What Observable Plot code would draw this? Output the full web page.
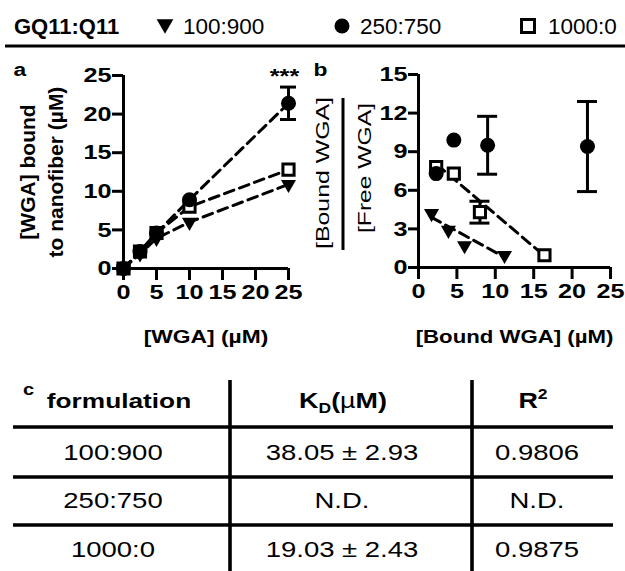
<!DOCTYPE html>
<html><head><meta charset="utf-8">
<script src="https://cdn.jsdelivr.net/npm/d3@7"></script>
<script src="https://cdn.jsdelivr.net/npm/@observablehq/plot@0.6"></script>
<style>
html,body{margin:0;padding:0;background:#fff;}
#fig{position:relative;width:625px;height:571px;overflow:hidden;background:#fff;}
#fig > svg{position:absolute;}
</style></head><body><div id="fig"></div>
<script>
// ---------- data ----------
const formulations = ["100:900", "250:750", "1000:0"];
// panel a: [WGA] added vs bound
const wgaConc   = [0, 2.5, 5, 10, 25];
const bound100  = [0, 1.9, 3.9, 6.0, 10.9];
const bound250  = [0, 2.2, 4.6, 8.9, 21.4];
const bound1000 = [0, 2.2, 4.6, 8.0, 12.8];
const sem250    = [0, 0, 0, 0, 2.1];
const sigLabels = ["***"];
const sigConc   = [25];
// panel b: Scatchard
const sBound100  = [1.7, 3.9, 6.0, 11.2];
const sRatio100  = [4.2, 2.9, 1.7, 0.95];
const sBound250  = [2.3, 4.6, 9.0, 22.0];
const sRatio250  = [7.3, 9.9, 9.5, 9.4];
const sSem250    = [0, 0, 2.25, 3.5];
const sBound1000 = [2.3, 4.6, 8.0, 16.4];
const sRatio1000 = [7.8, 7.3, 4.3, 0.95];
const sSem1000   = [0, 0, 0.85, 0];
const fitX100  = [1.7, 11.2], fitY100  = [3.9, 0.8];
const fitX1000 = [2.4, 16.6], fitY1000 = [8.0, 0.8];
// ticks
const xTicks  = [0, 5, 10, 15, 20, 25];
const yTicksA = [0, 5, 10, 15, 20, 25];
const yTicksB = [0, 3, 6, 9, 12, 15];
// table
const tableKd = ["38.05 \u00b1 2.93", "N.D.", "19.03 \u00b1 2.43"];
const tableR2 = ["0.9806", "N.D.", "0.9875"];

// ---------- helpers ----------
const FONT = '"Liberation Sans", Arial, Helvetica, sans-serif';
const S = 1.2;   // horizontal text stretch in the panels
const ST = 1.25; // horizontal text stretch in the table
const dash = "10,6";
const triDown = {draw(ctx, size) {
  const s = Math.sqrt(size * 4 / Math.sqrt(3)), h = s * Math.sqrt(3) / 2;
  ctx.moveTo(-s / 2, -h / 3); ctx.lineTo(s / 2, -h / 3); ctx.lineTo(0, 2 * h / 3); ctx.closePath();
}};
function stretch(svg) {
  svg.querySelectorAll("text").forEach(t => {
    const tr = t.getAttribute("transform");
    if (tr && tr.startsWith("translate(") && !tr.includes("rotate")) {
      const i = tr.indexOf(")") + 1;
      t.setAttribute("transform", tr.slice(0, i) + ` scale(${S},1)` + tr.slice(i));
    }
  });
}
const fig = document.getElementById("fig");
const base = {fontFamily: FONT, color: "black", background: "transparent", overflow: "visible"};

// ---------- panel a ----------
const byF = {"100:900": bound100, "250:750": bound250, "1000:0": bound1000};
const rowsA = formulations.flatMap(f => wgaConc.map((c, i) => ({f, x: c, y: byF[f][i]})));
const errA = wgaConc.map((c, i) => ({x: c, y: bound250[i], e: sem250[i]})).filter(d => d.e > 0);
const sig = sigLabels.map((t, i) => ({x: sigConc[i], t}));

const plotA = Plot.plot({
  width: 305, height: 360,
  marginLeft: 123, marginRight: 17, marginTop: 75, marginBottom: 92,
  style: base,
  x: {domain: [0, 25]}, y: {domain: [0, 25]},
  marks: [
    Plot.ruleY([0], {strokeWidth: 3}),
    Plot.ruleX([0], {strokeWidth: 3}),
    Plot.axisX({ticks: xTicks, tickSize: 12, tickPadding: 4, strokeWidth: 3, fontSize: 21, fontWeight: "bold", label: null}),
    Plot.axisY({ticks: yTicksA, tickSize: 11, tickPadding: 1, strokeWidth: 3, fontSize: 21, fontWeight: "bold", label: null}),
    Plot.line(rowsA, {x: "x", y: "y", z: "f", stroke: "black", strokeWidth: 3, strokeDasharray: dash}),
    Plot.ruleX(errA, {x: "x", y1: d => d.y - d.e, y2: d => d.y + d.e, strokeWidth: 3}),
    Plot.ruleY(errA, {x1: "x", x2: "x", y: d => d.y - d.e, insetLeft: -8, insetRight: -8, strokeWidth: 3}),
    Plot.ruleY(errA, {x1: "x", x2: "x", y: d => d.y + d.e, insetLeft: -8, insetRight: -8, strokeWidth: 3}),
    Plot.dot(rowsA.filter(d => d.f === "100:900"), {x: "x", y: "y", symbol: triDown, r: 5.6, fill: "black"}),
    Plot.dot(rowsA.filter(d => d.f === "1000:0"), {x: "x", y: "y", symbol: "square", r: 6.3, fill: "white", stroke: "black", strokeWidth: 3}),
    Plot.dot(rowsA.filter(d => d.f === "250:750"), {x: "x", y: "y", symbol: "circle", r: 7.5, fill: "black"}),
    Plot.text(sig, {x: "x", text: "t", frameAnchor: "top", lineAnchor: "bottom", dx: -4, dy: 7, fontSize: 21, fontWeight: "bold"}),
    Plot.text(["[WGA] (\u00b5M)"], {frameAnchor: "bottom", lineAnchor: "bottom", dy: 74, fontSize: 19, fontWeight: "bold"}),
    Plot.text(["[WGA] bound\nto nanofiber (\u00b5M)"], {frameAnchor: "left", rotate: -90, textAnchor: "middle", lineAnchor: "bottom", dx: -61, dy: 0, fontSize: 21, fontWeight: "bold", lineHeight: 1.33}),
    Plot.text(["a"], {frameAnchor: "top-left", textAnchor: "start", lineAnchor: "bottom", dx: -110, dy: 0, fontSize: 19, fontWeight: "bold"})
  ]
});
stretch(plotA);
plotA.style.left = "0px"; plotA.style.top = "0px";

// ---------- panel b ----------
const rowsB100  = sBound100.map((x, i) => ({x, y: sRatio100[i]}));
const rowsB250  = sBound250.map((x, i) => ({x, y: sRatio250[i], e: sSem250[i]}));
const rowsB1000 = sBound1000.map((x, i) => ({x, y: sRatio1000[i], e: sSem1000[i]}));
const errB = [...rowsB250, ...rowsB1000].filter(d => d.e > 0);
const fits = [
  ...fitX100.map((x, i) => ({f: "100:900", x, y: fitY100[i]})),
  ...fitX1000.map((x, i) => ({f: "1000:0", x, y: fitY1000[i]}))
];

const plotB = Plot.plot({
  width: 320, height: 360,
  marginLeft: 113, marginRight: 15, marginTop: 74, marginBottom: 93,
  style: base,
  x: {domain: [0, 25]}, y: {domain: [0, 15]},
  marks: [
    Plot.ruleY([0], {strokeWidth: 3}),
    Plot.ruleX([0], {strokeWidth: 3}),
    Plot.axisX({ticks: xTicks, tickSize: 12, tickPadding: 4, strokeWidth: 3, fontSize: 21, fontWeight: "bold", label: null}),
    Plot.axisY({ticks: yTicksB, tickSize: 10, tickPadding: 1, strokeWidth: 3, fontSize: 21, fontWeight: "bold", label: null}),
    Plot.line(fits, {x: "x", y: "y", z: "f", stroke: "black", strokeWidth: 3, strokeDasharray: dash}),
    Plot.ruleX(errB, {x: "x", y1: d => d.y - d.e, y2: d => d.y + d.e, strokeWidth: 3}),
    Plot.ruleY(errB, {x1: "x", x2: "x", y: d => d.y - d.e, insetLeft: -10, insetRight: -10, strokeWidth: 3}),
    Plot.ruleY(errB, {x1: "x", x2: "x", y: d => d.y + d.e, insetLeft: -10, insetRight: -10, strokeWidth: 3}),
    Plot.dot(rowsB100, {x: "x", y: "y", symbol: triDown, r: 5.6, fill: "black"}),
    Plot.dot(rowsB1000, {x: "x", y: "y", symbol: "square", r: 6.3, fill: "white", stroke: "black", strokeWidth: 3}),
    Plot.dot(rowsB250, {x: "x", y: "y", symbol: "circle", r: 7.5, fill: "black"}),
    Plot.text(["[Bound WGA] (\u00b5M)"], {frameAnchor: "bottom", lineAnchor: "bottom", dy: 75, fontSize: 18.5, fontWeight: "bold"}),
    Plot.text(["b"], {frameAnchor: "top-left", textAnchor: "start", lineAnchor: "bottom", dx: -105, dy: 1, fontSize: 19, fontWeight: "bold"})
  ]
});
stretch(plotB);
plotB.style.left = "305px"; plotB.style.top = "0px";
// fraction label of the y axis
{
  const g = d3.select(plotB).append("g").attr("font-family", FONT).attr("font-size", 19).attr("fill", "black");
  g.append("text").attr("transform", "translate(24,173) rotate(-90)").attr("text-anchor", "middle")
    .attr("textLength", 152).attr("lengthAdjust", "spacingAndGlyphs").text("[Bound WGA]");
  g.append("line").attr("x1", 38).attr("x2", 38).attr("y1", 98).attr("y2", 250).attr("stroke", "black").attr("stroke-width", 3);
  g.append("text").attr("transform", "translate(66,168) rotate(-90)").attr("text-anchor", "middle")
    .attr("textLength", 130).attr("lengthAdjust", "spacingAndGlyphs").text("[Free WGA]");
}

// ---------- legend + table ----------
const deco = d3.create("svg").attr("width", 625).attr("height", 571)
  .style("left", "0px").style("top", "0px").attr("font-family", FONT).attr("fill", "black");
deco.append("text").attr("x", 14).attr("y", 34).attr("font-size", 22).attr("font-weight", "bold").text("GQ11:Q11");
const legendItems = [
  {label: formulations[0], sx: 165, sy: 24, tx: 183, kind: "tri"},
  {label: formulations[1], sx: 342, sy: 26, tx: 360, kind: "circle"},
  {label: formulations[2], sx: 528, sy: 26, tx: 548, kind: "square"}
];
legendItems.forEach(d => {
  if (d.kind === "tri") deco.append("path").attr("d", d3.symbol(triDown, Math.PI * 6.2 * 6.2)()).attr("transform", `translate(${d.sx},${d.sy})`);
  if (d.kind === "circle") deco.append("circle").attr("cx", d.sx).attr("cy", d.sy).attr("r", 7.5);
  if (d.kind === "square") deco.append("rect").attr("x", d.sx - 6.5).attr("y", d.sy - 6.5).attr("width", 13).attr("height", 13).attr("fill", "white").attr("stroke", "black").attr("stroke-width", 3);
  deco.append("text").attr("x", d.tx).attr("y", 34).attr("font-size", 22.5).text(d.label);
});
deco.append("line").attr("x1", 5).attr("x2", 625).attr("y1", 46).attr("y2", 46).attr("stroke", "black").attr("stroke-width", 3.2);

// table
[427, 477, 525].forEach(y => deco.append("line").attr("x1", 13).attr("x2", 613).attr("y1", y).attr("y2", y).attr("stroke", "black").attr("stroke-width", 3.3));
[230, 472].forEach(x => deco.append("line").attr("x1", x).attr("x2", x).attr("y1", 380).attr("y2", 571).attr("stroke", "black").attr("stroke-width", 3.6));
function cell(x, y, size, weight, anchor) {
  return deco.append("text").attr("transform", `translate(${x},${y}) scale(${ST},1)`)
    .attr("font-size", size).attr("font-weight", weight).attr("text-anchor", anchor);
}
cell(23, 395, 16, "bold", "start").text("c");
cell(119, 408, 21, "bold", "middle").text("formulation");
{
  const t = cell(343, 408, 21.5, "bold", "middle");
  t.append("tspan").text("K");
  t.append("tspan").attr("font-size", 14).attr("dy", 5).text("D");
  t.append("tspan").attr("dy", -5).text("(");
  t.append("tspan").attr("font-weight", "normal").text("\u00b5");
  t.append("tspan").text("M)");
}
{
  const t = cell(533, 408, 21.5, "bold", "middle");
  t.append("tspan").text("R");
  t.append("tspan").attr("font-size", 14).attr("dy", -9).text("2");
}
const rowY = [460, 508, 557];
formulations.forEach((f, i) => {
  cell(113, rowY[i], 22, "normal", "middle").text(f);
  cell(342, rowY[i], 22, "normal", "middle").text(tableKd[i]);
  cell(537, rowY[i], 22, "normal", "middle").text(tableR2[i]);
});

fig.appendChild(deco.node());
fig.appendChild(plotA);
fig.appendChild(plotB);
</script></body></html>
